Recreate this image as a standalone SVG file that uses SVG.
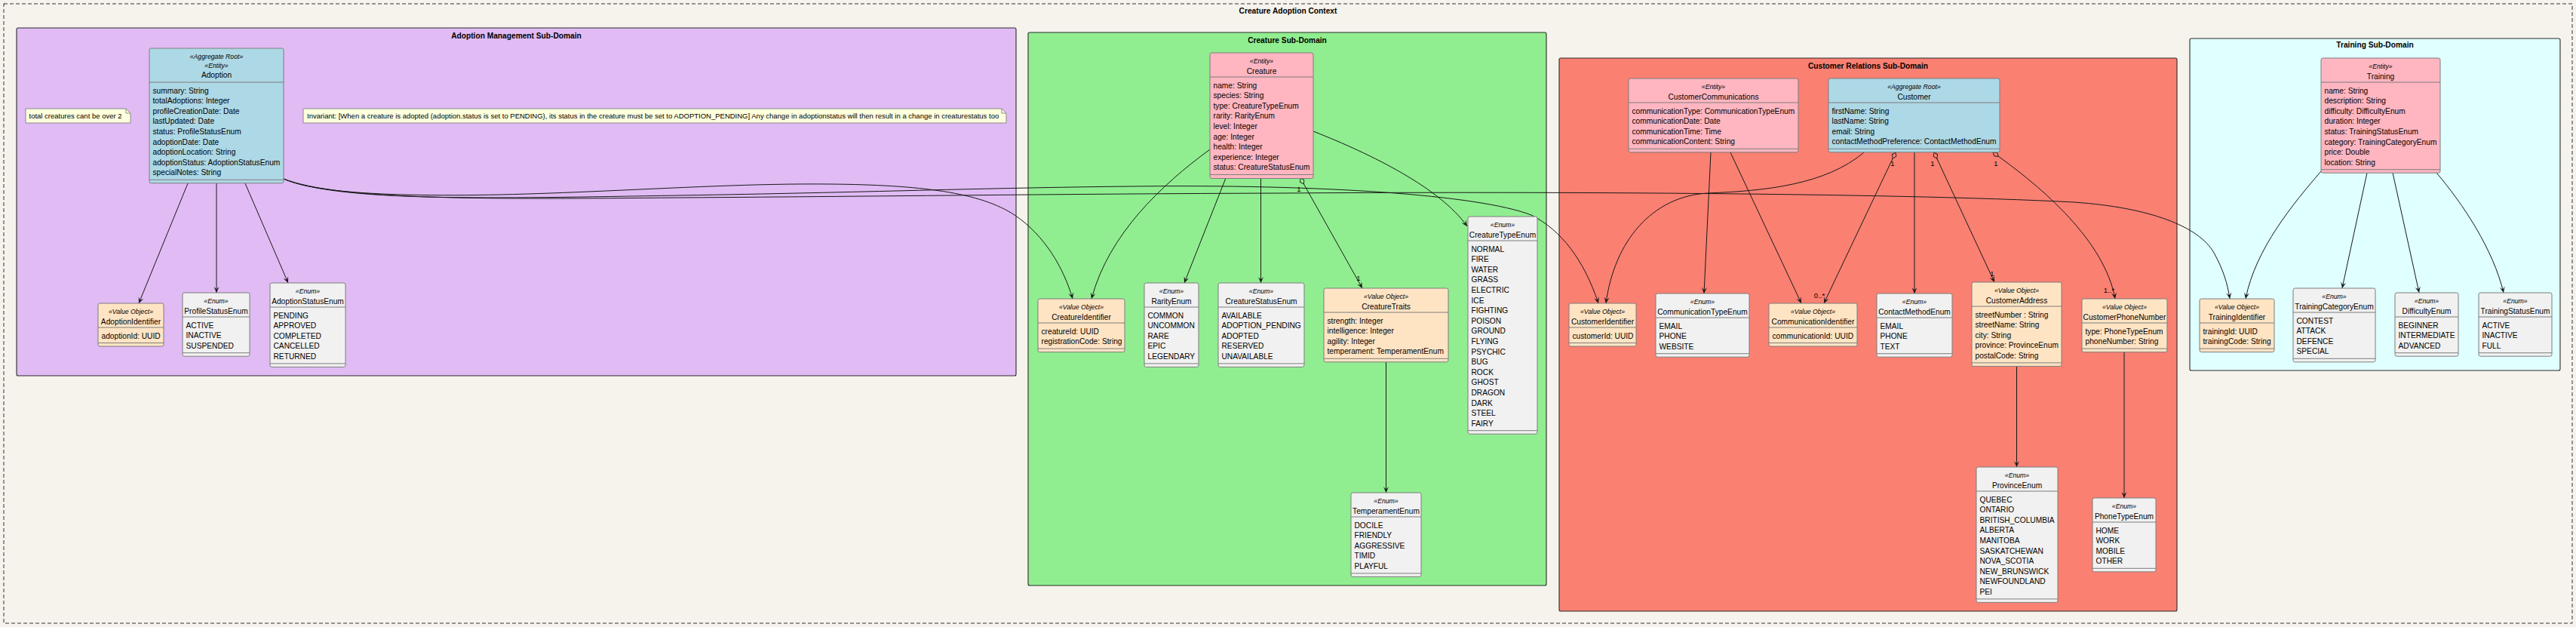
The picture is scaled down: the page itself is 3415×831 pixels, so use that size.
<svg xmlns="http://www.w3.org/2000/svg" width="3415" height="831" viewBox="0 0 3415 831">
<defs>
<style>
text{font-family:"Liberation Sans",Arial,sans-serif;fill:#000}
.st{font-size:8.7px;font-style:italic;text-anchor:middle}
.nm{font-size:10.2px;text-anchor:middle}
.at{font-size:10.2px}
.ttl{font-size:10.2px;font-weight:bold;text-anchor:middle}
.nt{font-size:9.5px}
.ml{font-size:9.5px;text-anchor:middle}
.box{stroke:#7d7d7d;stroke-width:1}
.vo{fill:#FFE4C4}.en{fill:#F1F1F1}.ent{fill:#FFB6C1}.ar{fill:#ADD8E6}
.sep{stroke:#7d7d7d;stroke-width:1}
.sd{stroke:#2a2a2a;stroke-width:1.1}
.e{fill:none;stroke:#181818;stroke-width:1;marker-end:url(#ah)}
.note{fill:#FEFFDD;stroke:#8a8a8a;stroke-width:1}
</style>
<marker id="ah" viewBox="-9 -4 10 8" refX="0" refY="0" markerWidth="10" markerHeight="8" markerUnits="userSpaceOnUse" orient="auto"><path d="M0,0 L-8,-3.5 L-4.5,0 L-8,3.5 Z" fill="#181818"/></marker>
<marker id="dg" viewBox="-1 -4 11 8" refX="0" refY="0" markerWidth="11" markerHeight="8" markerUnits="userSpaceOnUse" orient="auto"><path d="M0,0 L4.5,-3 L9,0 L4.5,3 Z" fill="#90EE90" stroke="#181818" stroke-width="0.9"/></marker>
<marker id="ds" viewBox="-1 -4 11 8" refX="0" refY="0" markerWidth="11" markerHeight="8" markerUnits="userSpaceOnUse" orient="auto"><path d="M0,0 L4.5,-3 L9,0 L4.5,3 Z" fill="#FA8072" stroke="#181818" stroke-width="0.9"/></marker>
</defs>
<rect x="0" y="0" width="3415" height="831" fill="#F6F3EC"/>
<g id="context">
<rect x="5" y="5" width="3405" height="821" fill="#F6F3EC" stroke="#333" stroke-width="1" stroke-dasharray="5,3"/>
<text class="ttl" x="1707.5" y="17.5">Creature Adoption Context</text>
</g>
<g id="adoption-subdomain">
<rect class="sd" x="22" y="37" width="1325" height="461" rx="2" fill="#E0BBF4"/>
<text class="ttl" x="684.5" y="50.5">Adoption Management Sub-Domain</text>
</g>
<g id="creature-subdomain">
<rect class="sd" x="1363" y="43" width="687" height="733" rx="2" fill="#90EE90"/>
<text class="ttl" x="1706.5" y="56.5">Creature Sub-Domain</text>
</g>
<g id="customer-subdomain">
<rect class="sd" x="2067" y="77" width="819" height="733" rx="2" fill="#FA8072"/>
<text class="ttl" x="2476.5" y="90.5">Customer Relations Sub-Domain</text>
</g>
<g id="training-subdomain">
<rect class="sd" x="2903" y="51" width="491" height="440" rx="2" fill="#E0FFFF"/>
<text class="ttl" x="3148.5" y="62.5">Training Sub-Domain</text>
</g>

<g id="connectors">
<path class="e" d="M249,243 L184,402"/>
<path class="e" d="M287,243 L287,388"/>
<path class="e" d="M325,243 L382,375"/>
<path class="e" d="M376,237 C430,262 600,262 780,254 C900,249 1000,243 1100,244 C1220,245 1300,255 1345,285 C1385,312 1410,355 1422,396"/>
<path class="e" d="M376,237 C450,268 650,263 900,259 C1150,255 1300,249 1500,247 C1750,244 1960,258 2030,285 C2070,305 2100,345 2119,402"/>
<path class="e" d="M376,237 C450,266 650,264 900,262 C1200,260 1400,257 1700,256 C2000,254 2500,255 2750,268 C2850,275 2915,300 2935,335 C2947,357 2953,375 2956,396"/>
<path class="e" d="M1604,198 C1540,245 1470,310 1447,396"/>
<path class="e" d="M1625,236 L1570,375"/>
<path class="e" d="M1671.5,236 L1671.5,375"/>
<path class="e" d="M1724,236 L1806,382" marker-start="url(#dg)"/>
<path class="e" d="M1741,174 C1820,205 1910,250 1945,300"/>
<path class="e" d="M1837.5,480 L1837.5,653"/>
<path class="e" d="M2268,202 L2259,389"/>
<path class="e" d="M2294,202 L2388,402"/>
<path class="e" d="M2471,202 C2420,245 2340,253 2264,256 C2190,260 2140,320 2129,402"/>
<path class="e" d="M2513,202 L2418,402" marker-start="url(#ds)"/>
<path class="e" d="M2538,202 L2538,389"/>
<path class="e" d="M2564,202 L2644,374" marker-start="url(#ds)"/>
<path class="e" d="M2642,202 C2710,250 2790,320 2804,396" marker-start="url(#ds)"/>
<path class="e" d="M2673.5,486 L2673.5,619"/>
<path class="e" d="M2816,467 L2816,660"/>
<path class="e" d="M3077,227 C3040,270 2990,330 2977,396"/>
<path class="e" d="M3138,229 L3105,382"/>
<path class="e" d="M3172,229 L3207,388"/>
<path class="e" d="M3230,229 C3265,270 3305,330 3319,388"/>
<text class="ml" x="1722" y="253.5">1</text>
<text class="ml" x="1801" y="372">1</text>
<text class="ml" x="2509" y="219.5">1</text>
<text class="ml" x="2562" y="219.5">1</text>
<text class="ml" x="2646" y="219.5">1</text>
<text class="ml" x="2412" y="394.5">0..*</text>
<text class="ml" x="2641" y="366">1</text>
<text class="ml" x="2796" y="387.5">1..*</text>
</g>

<g id="note-total">
<path class="note" d="M34,144 L167,144 L173,150 L173,163 L34,163 Z"/>
<path d="M167,144 L167,150 L173,150" fill="none" stroke="#8a8a8a"/>
<text class="nt" x="38.5" y="157">total creatures cant be over 2</text>
</g>
<g id="note-invariant">
<path class="note" d="M402,144 L1328,144 L1334,150 L1334,163 L402,163 Z"/>
<path d="M1328,144 L1328,150 L1334,150" fill="none" stroke="#8a8a8a"/>
<text class="nt" x="407" y="157">Invariant: [When a creature is adopted (adoption.status is set to PENDING), its status in the creature must be set to ADOPTION_PENDING] Any change in adoptionstatus will then result in a change in creaturestatus too</text>
</g>

<g id="Adoption">
<rect class="box ar" x="198" y="64" width="178" height="178.8" rx="2.5"/>
<text class="st" x="287" y="78">«Aggregate Root»</text>
<text class="st" x="287" y="90">«Entity»</text>
<text class="nm" x="287" y="102.5">Adoption</text>
<line class="sep" x1="198" y1="109" x2="376" y2="109"/>
<text class="at" x="202.5" y="123.5">summary: String</text>
<text class="at" x="202.5" y="137.1">totalAdoptions: Integer</text>
<text class="at" x="202.5" y="150.7">profileCreationDate: Date</text>
<text class="at" x="202.5" y="164.3">lastUpdated: Date</text>
<text class="at" x="202.5" y="177.9">status: ProfileStatusEnum</text>
<text class="at" x="202.5" y="191.5">adoptionDate: Date</text>
<text class="at" x="202.5" y="205.1">adoptionLocation: String</text>
<text class="at" x="202.5" y="218.7">adoptionStatus: AdoptionStatusEnum</text>
<text class="at" x="202.5" y="232.3">specialNotes: String</text>
<line class="sep" x1="198" y1="238.3" x2="376" y2="238.3"/>
</g>
<g id="AdoptionIdentifier">
<rect class="box vo" x="130" y="402" width="87" height="57" rx="2.5"/>
<text class="st" x="173.5" y="416">«Value Object»</text>
<text class="nm" x="173.5" y="429.5">AdoptionIdentifier</text>
<line class="sep" x1="130" y1="434" x2="217" y2="434"/>
<text class="at" x="134.5" y="448.5">adoptionId: UUID</text>
<line class="sep" x1="130" y1="454.5" x2="217" y2="454.5"/>
</g>
<g id="ProfileStatusEnum">
<rect class="box en" x="242" y="388" width="89" height="84.2" rx="2.5"/>
<text class="st" x="286.5" y="402">«Enum»</text>
<text class="nm" x="286.5" y="415.5">ProfileStatusEnum</text>
<line class="sep" x1="242" y1="420" x2="331" y2="420"/>
<text class="at" x="246.5" y="434.5">ACTIVE</text>
<text class="at" x="246.5" y="448.1">INACTIVE</text>
<text class="at" x="246.5" y="461.7">SUSPENDED</text>
<line class="sep" x1="242" y1="467.7" x2="331" y2="467.7"/>
</g>
<g id="AdoptionStatusEnum">
<rect class="box en" x="358" y="375" width="100" height="111.4" rx="2.5"/>
<text class="st" x="408" y="389">«Enum»</text>
<text class="nm" x="408" y="402.5">AdoptionStatusEnum</text>
<line class="sep" x1="358" y1="407" x2="458" y2="407"/>
<text class="at" x="362.5" y="421.5">PENDING</text>
<text class="at" x="362.5" y="435.1">APPROVED</text>
<text class="at" x="362.5" y="448.7">COMPLETED</text>
<text class="at" x="362.5" y="462.3">CANCELLED</text>
<text class="at" x="362.5" y="475.9">RETURNED</text>
<line class="sep" x1="358" y1="481.9" x2="458" y2="481.9"/>
</g>

<g id="Creature">
<rect class="box ent" x="1604" y="70" width="137" height="166.5" rx="2.5"/>
<text class="st" x="1672.5" y="84">«Entity»</text>
<text class="nm" x="1672.5" y="97.5">Creature</text>
<line class="sep" x1="1604" y1="102" x2="1741" y2="102"/>
<text class="at" x="1608.5" y="116.5">name: String</text>
<text class="at" x="1608.5" y="130.1">species: String</text>
<text class="at" x="1608.5" y="143.7">type: CreatureTypeEnum</text>
<text class="at" x="1608.5" y="157.3">rarity: RarityEnum</text>
<text class="at" x="1608.5" y="170.9">level: Integer</text>
<text class="at" x="1608.5" y="184.5">age: Integer</text>
<text class="at" x="1608.5" y="198.1">health: Integer</text>
<text class="at" x="1608.5" y="211.7">experience: Integer</text>
<text class="at" x="1608.5" y="225.3">status: CreatureStatusEnum</text>
<line class="sep" x1="1604" y1="231.5" x2="1741" y2="231.5"/>
</g>
<g id="CreatureIdentifier">
<rect class="box vo" x="1376" y="396" width="115" height="70.6" rx="2.5"/>
<text class="st" x="1433.5" y="410">«Value Object»</text>
<text class="nm" x="1433.5" y="423.5">CreatureIdentifier</text>
<line class="sep" x1="1376" y1="428" x2="1491" y2="428"/>
<text class="at" x="1380.5" y="442.5">creatureId: UUID</text>
<text class="at" x="1380.5" y="456.1">registrationCode: String</text>
<line class="sep" x1="1376" y1="462.1" x2="1491" y2="462.1"/>
</g>
<g id="RarityEnum">
<rect class="box en" x="1517" y="375" width="72" height="111.4" rx="2.5"/>
<text class="st" x="1553" y="389">«Enum»</text>
<text class="nm" x="1553" y="402.5">RarityEnum</text>
<line class="sep" x1="1517" y1="407" x2="1589" y2="407"/>
<text class="at" x="1521.5" y="421.5">COMMON</text>
<text class="at" x="1521.5" y="435.1">UNCOMMON</text>
<text class="at" x="1521.5" y="448.7">RARE</text>
<text class="at" x="1521.5" y="462.3">EPIC</text>
<text class="at" x="1521.5" y="475.9">LEGENDARY</text>
<line class="sep" x1="1517" y1="481.9" x2="1589" y2="481.9"/>
</g>
<g id="CreatureStatusEnum">
<rect class="box en" x="1615" y="375" width="114" height="111.4" rx="2.5"/>
<text class="st" x="1672" y="389">«Enum»</text>
<text class="nm" x="1672" y="402.5">CreatureStatusEnum</text>
<line class="sep" x1="1615" y1="407" x2="1729" y2="407"/>
<text class="at" x="1619.5" y="421.5">AVAILABLE</text>
<text class="at" x="1619.5" y="435.1">ADOPTION_PENDING</text>
<text class="at" x="1619.5" y="448.7">ADOPTED</text>
<text class="at" x="1619.5" y="462.3">RESERVED</text>
<text class="at" x="1619.5" y="475.9">UNAVAILABLE</text>
<line class="sep" x1="1615" y1="481.9" x2="1729" y2="481.9"/>
</g>
<g id="CreatureTraits">
<rect class="box vo" x="1755" y="382" width="165" height="97.8" rx="2.5"/>
<text class="st" x="1837.5" y="396">«Value Object»</text>
<text class="nm" x="1837.5" y="409.5">CreatureTraits</text>
<line class="sep" x1="1755" y1="414" x2="1920" y2="414"/>
<text class="at" x="1759.5" y="428.5">strength: Integer</text>
<text class="at" x="1759.5" y="442.1">intelligence: Integer</text>
<text class="at" x="1759.5" y="455.7">agility: Integer</text>
<text class="at" x="1759.5" y="469.3">temperament: TemperamentEnum</text>
<line class="sep" x1="1755" y1="475.3" x2="1920" y2="475.3"/>
</g>
<g id="CreatureTypeEnum">
<rect class="box en" x="1946" y="287" width="92" height="288.2" rx="2.5"/>
<text class="st" x="1992" y="301">«Enum»</text>
<text class="nm" x="1992" y="314.5">CreatureTypeEnum</text>
<line class="sep" x1="1946" y1="319" x2="2038" y2="319"/>
<text class="at" x="1950.5" y="333.5">NORMAL</text>
<text class="at" x="1950.5" y="347.1">FIRE</text>
<text class="at" x="1950.5" y="360.7">WATER</text>
<text class="at" x="1950.5" y="374.3">GRASS</text>
<text class="at" x="1950.5" y="387.9">ELECTRIC</text>
<text class="at" x="1950.5" y="401.5">ICE</text>
<text class="at" x="1950.5" y="415.1">FIGHTING</text>
<text class="at" x="1950.5" y="428.7">POISON</text>
<text class="at" x="1950.5" y="442.3">GROUND</text>
<text class="at" x="1950.5" y="455.9">FLYING</text>
<text class="at" x="1950.5" y="469.5">PSYCHIC</text>
<text class="at" x="1950.5" y="483.1">BUG</text>
<text class="at" x="1950.5" y="496.7">ROCK</text>
<text class="at" x="1950.5" y="510.3">GHOST</text>
<text class="at" x="1950.5" y="523.9">DRAGON</text>
<text class="at" x="1950.5" y="537.5">DARK</text>
<text class="at" x="1950.5" y="551.1">STEEL</text>
<text class="at" x="1950.5" y="564.7">FAIRY</text>
<line class="sep" x1="1946" y1="570.7" x2="2038" y2="570.7"/>
</g>
<g id="TemperamentEnum">
<rect class="box en" x="1791" y="653" width="93" height="111.4" rx="2.5"/>
<text class="st" x="1837.5" y="667">«Enum»</text>
<text class="nm" x="1837.5" y="680.5">TemperamentEnum</text>
<line class="sep" x1="1791" y1="685" x2="1884" y2="685"/>
<text class="at" x="1795.5" y="699.5">DOCILE</text>
<text class="at" x="1795.5" y="713.1">FRIENDLY</text>
<text class="at" x="1795.5" y="726.7">AGGRESSIVE</text>
<text class="at" x="1795.5" y="740.3">TIMID</text>
<text class="at" x="1795.5" y="753.9">PLAYFUL</text>
<line class="sep" x1="1791" y1="759.9" x2="1884" y2="759.9"/>
</g>

<g id="CustomerCommunications">
<rect class="box ent" x="2159" y="104" width="225" height="97.8" rx="2.5"/>
<text class="st" x="2271.5" y="118">«Entity»</text>
<text class="nm" x="2271.5" y="131.5">CustomerCommunications</text>
<line class="sep" x1="2159" y1="136" x2="2384" y2="136"/>
<text class="at" x="2163.5" y="150.5">communicationType: CommunicationTypeEnum</text>
<text class="at" x="2163.5" y="164.1">communicationDate: Date</text>
<text class="at" x="2163.5" y="177.7">communicationTime: Time</text>
<text class="at" x="2163.5" y="191.3">communicationContent: String</text>
<line class="sep" x1="2159" y1="197.3" x2="2384" y2="197.3"/>
</g>
<g id="Customer">
<rect class="box ar" x="2424" y="104" width="227" height="97.8" rx="2.5"/>
<text class="st" x="2537.5" y="118">«Aggregate Root»</text>
<text class="nm" x="2537.5" y="131.5">Customer</text>
<line class="sep" x1="2424" y1="136" x2="2651" y2="136"/>
<text class="at" x="2428.5" y="150.5">firstName: String</text>
<text class="at" x="2428.5" y="164.1">lastName: String</text>
<text class="at" x="2428.5" y="177.7">email: String</text>
<text class="at" x="2428.5" y="191.3">contactMethodPreference: ContactMethodEnum</text>
<line class="sep" x1="2424" y1="197.3" x2="2651" y2="197.3"/>
</g>
<g id="CustomerIdentifier">
<rect class="box vo" x="2080" y="402" width="89" height="57" rx="2.5"/>
<text class="st" x="2124.5" y="416">«Value Object»</text>
<text class="nm" x="2124.5" y="429.5">CustomerIdentifier</text>
<line class="sep" x1="2080" y1="434" x2="2169" y2="434"/>
<text class="at" x="2084.5" y="448.5">customerId: UUID</text>
<line class="sep" x1="2080" y1="454.5" x2="2169" y2="454.5"/>
</g>
<g id="CommunicationTypeEnum">
<rect class="box en" x="2195" y="389" width="124" height="84.2" rx="2.5"/>
<text class="st" x="2257" y="403">«Enum»</text>
<text class="nm" x="2257" y="416.5">CommunicationTypeEnum</text>
<line class="sep" x1="2195" y1="421" x2="2319" y2="421"/>
<text class="at" x="2199.5" y="435.5">EMAIL</text>
<text class="at" x="2199.5" y="449.1">PHONE</text>
<text class="at" x="2199.5" y="462.7">WEBSITE</text>
<line class="sep" x1="2195" y1="468.7" x2="2319" y2="468.7"/>
</g>
<g id="CommunicationIdentifier">
<rect class="box vo" x="2345" y="402" width="117" height="57" rx="2.5"/>
<text class="st" x="2403.5" y="416">«Value Object»</text>
<text class="nm" x="2403.5" y="429.5">CommunicationIdentifier</text>
<line class="sep" x1="2345" y1="434" x2="2462" y2="434"/>
<text class="at" x="2349.5" y="448.5">communicationId: UUID</text>
<line class="sep" x1="2345" y1="454.5" x2="2462" y2="454.5"/>
</g>
<g id="ContactMethodEnum">
<rect class="box en" x="2488" y="389" width="100" height="84.2" rx="2.5"/>
<text class="st" x="2538" y="403">«Enum»</text>
<text class="nm" x="2538" y="416.5">ContactMethodEnum</text>
<line class="sep" x1="2488" y1="421" x2="2588" y2="421"/>
<text class="at" x="2492.5" y="435.5">EMAIL</text>
<text class="at" x="2492.5" y="449.1">PHONE</text>
<text class="at" x="2492.5" y="462.7">TEXT</text>
<line class="sep" x1="2488" y1="468.7" x2="2588" y2="468.7"/>
</g>
<g id="CustomerAddress">
<rect class="box vo" x="2614" y="374" width="119" height="111.4" rx="2.5"/>
<text class="st" x="2673.5" y="388">«Value Object»</text>
<text class="nm" x="2673.5" y="401.5">CustomerAddress</text>
<line class="sep" x1="2614" y1="406" x2="2733" y2="406"/>
<text class="at" x="2618.5" y="420.5">streetNumber : String</text>
<text class="at" x="2618.5" y="434.1">streetName: String</text>
<text class="at" x="2618.5" y="447.7">city: String</text>
<text class="at" x="2618.5" y="461.3">province: ProvinceEnum</text>
<text class="at" x="2618.5" y="474.9">postalCode: String</text>
<line class="sep" x1="2614" y1="480.9" x2="2733" y2="480.9"/>
</g>
<g id="CustomerPhoneNumber">
<rect class="box vo" x="2760" y="396" width="113" height="70.6" rx="2.5"/>
<text class="st" x="2816.5" y="410">«Value Object»</text>
<text class="nm" x="2816.5" y="423.5">CustomerPhoneNumber</text>
<line class="sep" x1="2760" y1="428" x2="2873" y2="428"/>
<text class="at" x="2764.5" y="442.5">type: PhoneTypeEnum</text>
<text class="at" x="2764.5" y="456.1">phoneNumber: String</text>
<line class="sep" x1="2760" y1="462.1" x2="2873" y2="462.1"/>
</g>
<g id="ProvinceEnum">
<rect class="box en" x="2620" y="619" width="108" height="179.4" rx="2.5"/>
<text class="st" x="2674" y="633">«Enum»</text>
<text class="nm" x="2674" y="646.5">ProvinceEnum</text>
<line class="sep" x1="2620" y1="651" x2="2728" y2="651"/>
<text class="at" x="2624.5" y="665.5">QUEBEC</text>
<text class="at" x="2624.5" y="679.1">ONTARIO</text>
<text class="at" x="2624.5" y="692.7">BRITISH_COLUMBIA</text>
<text class="at" x="2624.5" y="706.3">ALBERTA</text>
<text class="at" x="2624.5" y="719.9">MANITOBA</text>
<text class="at" x="2624.5" y="733.5">SASKATCHEWAN</text>
<text class="at" x="2624.5" y="747.1">NOVA_SCOTIA</text>
<text class="at" x="2624.5" y="760.7">NEW_BRUNSWICK</text>
<text class="at" x="2624.5" y="774.3">NEWFOUNDLAND</text>
<text class="at" x="2624.5" y="787.9">PEI</text>
<line class="sep" x1="2620" y1="793.9" x2="2728" y2="793.9"/>
</g>
<g id="PhoneTypeEnum">
<rect class="box en" x="2774" y="660" width="84" height="97.8" rx="2.5"/>
<text class="st" x="2816" y="674">«Enum»</text>
<text class="nm" x="2816" y="687.5">PhoneTypeEnum</text>
<line class="sep" x1="2774" y1="692" x2="2858" y2="692"/>
<text class="at" x="2778.5" y="706.5">HOME</text>
<text class="at" x="2778.5" y="720.1">WORK</text>
<text class="at" x="2778.5" y="733.7">MOBILE</text>
<text class="at" x="2778.5" y="747.3">OTHER</text>
<line class="sep" x1="2774" y1="753.3" x2="2858" y2="753.3"/>
</g>

<g id="Training">
<rect class="box ent" x="3077" y="77" width="158" height="152.2" rx="2.5"/>
<text class="st" x="3156" y="91">«Entity»</text>
<text class="nm" x="3156" y="104.5">Training</text>
<line class="sep" x1="3077" y1="109" x2="3235" y2="109"/>
<text class="at" x="3081.5" y="123.5">name: String</text>
<text class="at" x="3081.5" y="137.1">description: String</text>
<text class="at" x="3081.5" y="150.7">difficulty: DifficultyEnum</text>
<text class="at" x="3081.5" y="164.3">duration: Integer</text>
<text class="at" x="3081.5" y="177.9">status: TrainingStatusEnum</text>
<text class="at" x="3081.5" y="191.5">category: TrainingCategoryEnum</text>
<text class="at" x="3081.5" y="205.1">price: Double</text>
<text class="at" x="3081.5" y="218.7">location: String</text>
<line class="sep" x1="3077" y1="224.7" x2="3235" y2="224.7"/>
</g>
<g id="TrainingIdentifier">
<rect class="box vo" x="2916" y="396" width="99" height="70.6" rx="2.5"/>
<text class="st" x="2965.5" y="410">«Value Object»</text>
<text class="nm" x="2965.5" y="423.5">TrainingIdentifier</text>
<line class="sep" x1="2916" y1="428" x2="3015" y2="428"/>
<text class="at" x="2920.5" y="442.5">trainingId: UUID</text>
<text class="at" x="2920.5" y="456.1">trainingCode: String</text>
<line class="sep" x1="2916" y1="462.1" x2="3015" y2="462.1"/>
</g>
<g id="TrainingCategoryEnum">
<rect class="box en" x="3040" y="382" width="109" height="97.8" rx="2.5"/>
<text class="st" x="3094.5" y="396">«Enum»</text>
<text class="nm" x="3094.5" y="409.5">TrainingCategoryEnum</text>
<line class="sep" x1="3040" y1="414" x2="3149" y2="414"/>
<text class="at" x="3044.5" y="428.5">CONTEST</text>
<text class="at" x="3044.5" y="442.1">ATTACK</text>
<text class="at" x="3044.5" y="455.7">DEFENCE</text>
<text class="at" x="3044.5" y="469.3">SPECIAL</text>
<line class="sep" x1="3040" y1="475.3" x2="3149" y2="475.3"/>
</g>
<g id="DifficultyEnum">
<rect class="box en" x="3175" y="388" width="84" height="84.2" rx="2.5"/>
<text class="st" x="3217" y="402">«Enum»</text>
<text class="nm" x="3217" y="415.5">DifficultyEnum</text>
<line class="sep" x1="3175" y1="420" x2="3259" y2="420"/>
<text class="at" x="3179.5" y="434.5">BEGINNER</text>
<text class="at" x="3179.5" y="448.1">INTERMEDIATE</text>
<text class="at" x="3179.5" y="461.7">ADVANCED</text>
<line class="sep" x1="3175" y1="467.7" x2="3259" y2="467.7"/>
</g>
<g id="TrainingStatusEnum">
<rect class="box en" x="3286" y="388" width="97" height="84.2" rx="2.5"/>
<text class="st" x="3334.5" y="402">«Enum»</text>
<text class="nm" x="3334.5" y="415.5">TrainingStatusEnum</text>
<line class="sep" x1="3286" y1="420" x2="3383" y2="420"/>
<text class="at" x="3290.5" y="434.5">ACTIVE</text>
<text class="at" x="3290.5" y="448.1">INACTIVE</text>
<text class="at" x="3290.5" y="461.7">FULL</text>
<line class="sep" x1="3286" y1="467.7" x2="3383" y2="467.7"/>
</g>
</svg>
